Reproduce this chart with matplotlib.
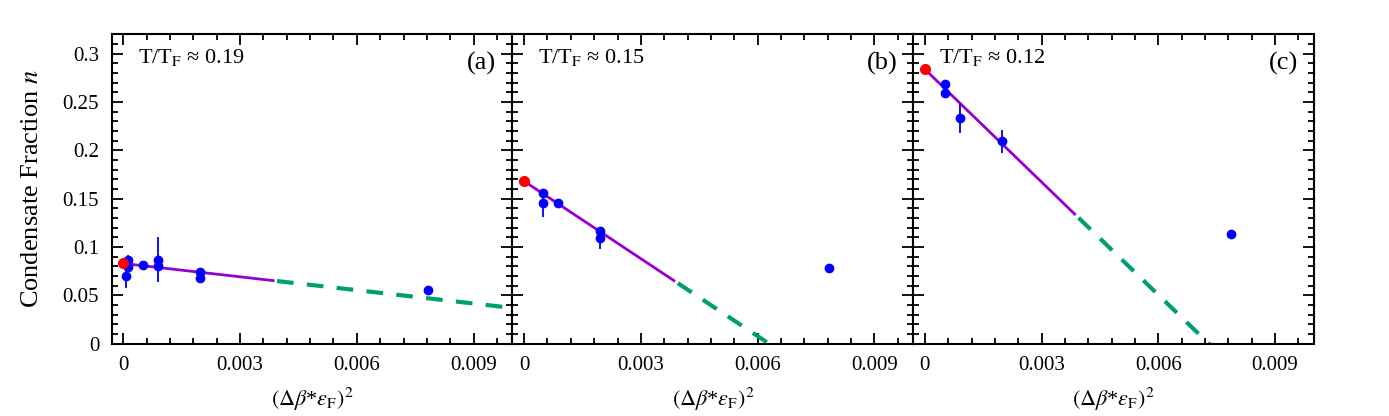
import matplotlib.pyplot as plt
from matplotlib.ticker import MultipleLocator, FuncFormatter
import numpy as np

plt.rcParams['font.family'] = ['Liberation Serif', 'DejaVu Serif']
plt.rcParams['mathtext.fontset'] = 'stix'

# данные
temps = ['0.19', '0.15', '0.12']
panel_tags = ['(a)', '(b)', '(c)']

x_a = [0.00006, 0.00013, 0.00013, 0.0005, 0.00088, 0.00088, 0.00196, 0.00196, 0.00784]
y_a = [0.070, 0.086, 0.0794, 0.081, 0.087, 0.0805, 0.0742, 0.068, 0.0553]
err_a = [0.012, 0.006, 0.003, 0.002, 0.023, 0.003, 0.002, 0.002, 0.001]

x_b = [0.00049, 0.00049, 0.00088, 0.00196, 0.00196, 0.00783]
y_b = [0.156, 0.145, 0.145, 0.1164, 0.1088, 0.0784]
err_b = [0.003, 0.014, 0.002, 0.003, 0.011, 0.001]

x_c = [0.00051, 0.00051, 0.0009, 0.00199, 0.00787]
y_c = [0.2685, 0.2596, 0.233, 0.2095, 0.1133]
err_c = [0.003, 0.006, 0.015, 0.012, 0.001]

# экстраполяция к нулю (красные точки) и наклон линейной подгонки
n0 = [0.0829, 0.168, 0.2838]
slopes = [-4.6, -26.7, -38.9]
fit_end = 0.00385

fig, axes = plt.subplots(1, 3, figsize=(13.89, 4.16), dpi=100, sharey=True)
fig.subplots_adjust(left=0.0804, right=0.946, top=0.9175, bottom=0.174, wspace=0)

panels = [(x_a, y_a, err_a), (x_b, y_b, err_b), (x_c, y_c, err_c)]

for i, ax in enumerate(axes):
    xs, ys, es = panels[i]
    xfit = np.linspace(0, fit_end, 50)
    xext = np.linspace(fit_end + 0.0001, 0.0105, 50)
    ax.plot(xfit, n0[i] + slopes[i] * xfit, color='#9400D3', lw=2)
    ax.plot(xext, n0[i] + slopes[i] * xext, color='#009E73', lw=3, ls=(0, (4, 3.2)))
    ax.errorbar(xs, ys, yerr=es, fmt='o', color='#0000FF', ms=6, elinewidth=1.3,
                capsize=0, zorder=3)
    ax.plot([0], [n0[i]], 'o', color='#FF0000', ms=7, zorder=4)

    ax.set_xlim(-0.0003, 0.01)
    ax.set_ylim(0, 0.32)
    ax.xaxis.set_major_locator(MultipleLocator(0.003))
    ax.xaxis.set_minor_locator(MultipleLocator(0.0006))
    ax.yaxis.set_major_locator(MultipleLocator(0.05))
    ax.yaxis.set_minor_locator(MultipleLocator(0.01))
    ax.xaxis.set_major_formatter(FuncFormatter(lambda v, p: '0' if abs(v) < 1e-12 else f'{v:.3f}'))
    ax.yaxis.set_major_formatter(FuncFormatter(lambda v, p: f'{v:g}'))
    ax.tick_params(which='both', direction='in', top=True, right=True, labelsize=15, width=1.3)
    ax.tick_params(which='major', length=8, pad=9)
    ax.tick_params(which='minor', length=4)
    for s in ax.spines.values():
        s.set_linewidth(1.5)

    ax.text(0.065, 0.925, 'T/T$_\\mathrm{F}$ ≈ ' + temps[i], transform=ax.transAxes,
            fontsize=16, va='center', ha='left')
    ax.text(0.96, 0.905, panel_tags[i], transform=ax.transAxes,
            fontsize=19, va='center', ha='right')
    ax.set_xlabel(r'$(\Delta\beta$*$\epsilon_\mathrm{F})^2$', fontsize=16, labelpad=8)

axes[0].set_ylabel('Condensate Fraction $n$', fontsize=19, labelpad=14)

plt.savefig('out.png', dpi=100)
